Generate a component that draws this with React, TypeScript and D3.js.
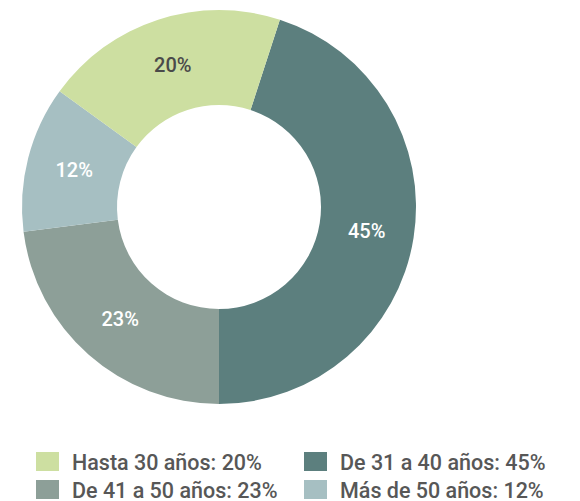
import React from "react";
import * as d3 from "d3";

const categories = ["De 31 a 40 años", "De 41 a 50 años", "Más de 50 años", "Hasta 30 años"];
const values = [45, 23, 12, 20];
const colors = ["#5c7f7e", "#8d9f98", "#a6bfc2", "#cddfa1"];
const labelColors = ["#ffffff", "#ffffff", "#ffffff", "#4a4a4a"];

const legendOrder = [3, 0, 1, 2];

const W = 580;
const H = 501;
const cx = 219;
const cy = 207;
const rOuter = 197;
const rInner = 102;
const startDeg = 18;

export default function App() {
  const pie = d3
    .pie<number>()
    .value((d) => d)
    .sort(null)
    .startAngle((startDeg * Math.PI) / 180)
    .endAngle(((startDeg + 360) * Math.PI) / 180);
  const arcs = pie(values);
  const arc = d3.arc<d3.PieArcDatum<number>>().innerRadius(rInner).outerRadius(rOuter);
  const font = "Roboto, 'DejaVu Sans Condensed', sans-serif";

  const legendX = [36, 304];
  const legendY = [452, 480];

  return (
    <div style={{ position: "absolute", left: 0, top: 0 }}>
      <svg width={W} height={H} style={{ display: "block" }}>
        <g transform={`translate(${cx},${cy})`}>
          {arcs.map((a, i) => (
            <path key={i} d={arc(a) || ""} fill={colors[i]} />
          ))}
          {arcs.map((a, i) => {
            const [x, y] = arc.centroid(a);
            return (
              <text
                key={"l" + i}
                x={x}
                y={y}
                dy="0.36em"
                textAnchor="middle"
                fill={labelColors[i]}
                fontFamily={font}
                fontSize={20}
                fontWeight={500}
              >
                {values[i]}%
              </text>
            );
          })}
        </g>
        {legendOrder.map((idx, k) => {
          const col = k % 2;
          const row = Math.floor(k / 2);
          const x = legendX[col];
          const y = legendY[row];
          return (
            <g key={"lg" + k}>
              <rect x={x} y={y} width={23} height={19} fill={colors[idx]} />
              <text
                x={x + 36}
                y={y + 17.5}
                fill="#575757"
                fontFamily={font}
                fontSize={21.5}
                fontWeight={500}
              >
                {categories[idx]}: {values[idx]}%
              </text>
            </g>
          );
        })}
      </svg>
    </div>
  );
}
